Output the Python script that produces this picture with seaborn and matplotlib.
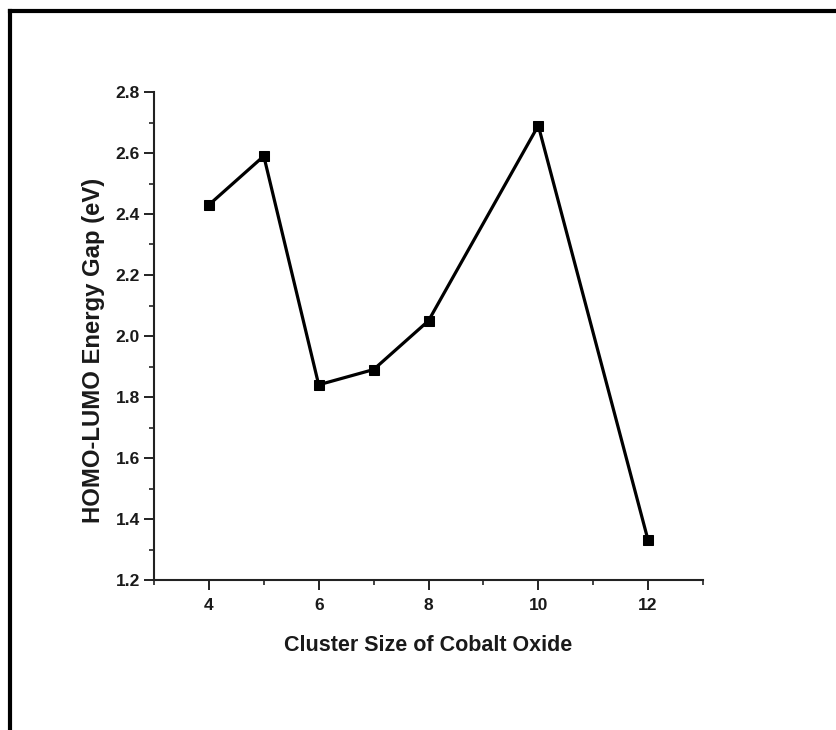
import matplotlib
matplotlib.use("Agg")
import matplotlib.pyplot as plt
from matplotlib.lines import Line2D
from matplotlib.ticker import MultipleLocator
import seaborn as sns
import pandas as pd

# HOMO-LUMO gap versus cobalt oxide cluster size
cluster_size = [4, 5, 6, 7, 8, 10, 12]
energy_gap = [2.43, 2.59, 1.84, 1.89, 2.05, 2.69, 1.33]
x_ticks = [4, 6, 8, 10, 12]
y_ticks = [1.2, 1.4, 1.6, 1.8, 2.0, 2.2, 2.4, 2.6, 2.8]

df = pd.DataFrame({"size": cluster_size, "gap": energy_gap})

sns.set_theme(style="ticks")
plt.rcParams["font.family"] = ["Liberation Sans", "DejaVu Sans"]
plt.rcParams["font.weight"] = "bold"

W, H = 836, 730
fig = plt.figure(figsize=(W / 100, H / 100), dpi=100)
ax = fig.add_axes([154 / W, 1 - 580 / H, (703 - 154) / W, (580 - 92) / H])

sns.lineplot(data=df, x="size", y="gap", ax=ax, color="black", linewidth=2.3,
             marker="s", markersize=7.5, markeredgecolor="black",
             markerfacecolor="black")

ax.set_xlim(3, 13)
ax.set_ylim(1.2, 2.8)
ax.set_xticks(x_ticks)
ax.set_xticklabels([str(v) for v in x_ticks])
ax.set_yticks(y_ticks)
ax.set_yticklabels([f"{v:.1f}" for v in y_ticks])
ax.xaxis.set_minor_locator(MultipleLocator(1))
ax.yaxis.set_minor_locator(MultipleLocator(0.1))

for side in ("top", "right"):
    ax.spines[side].set_visible(False)
for side in ("left", "bottom"):
    ax.spines[side].set_linewidth(1.5)
    ax.spines[side].set_color("#222222")

ax.tick_params(which="major", direction="out", length=7, width=1.4,
               labelsize=12.5, color="#222222", labelcolor="#1a1a1a")
ax.tick_params(axis="x", which="major", pad=6)
ax.tick_params(axis="y", which="major", pad=3)
ax.tick_params(which="minor", direction="out", length=3.5, width=1.2,
               color="#222222")
for lab in ax.get_xticklabels() + ax.get_yticklabels():
    lab.set_fontweight("bold")

ax.set_xlabel("Cluster Size of Cobalt Oxide", fontsize=15.5, fontweight="bold",
              labelpad=16, color="#1a1a1a")
ax.set_ylabel("HOMO-LUMO Energy Gap (eV)", fontsize=17.2, fontweight="bold",
              color="#1a1a1a")
ax.yaxis.set_label_coords(-0.089, 0.471)

# frame lines along the top and left edges of the figure
fig.add_artist(Line2D([10 / W, 1], [1 - 11 / H, 1 - 11 / H],
                      transform=fig.transFigure, color="black",
                      linewidth=3, solid_capstyle="projecting"))
fig.add_artist(Line2D([10 / W, 10 / W], [0, 1 - 11 / H],
                      transform=fig.transFigure, color="black",
                      linewidth=3, solid_capstyle="projecting"))

fig.savefig("out.png", dpi=100)
